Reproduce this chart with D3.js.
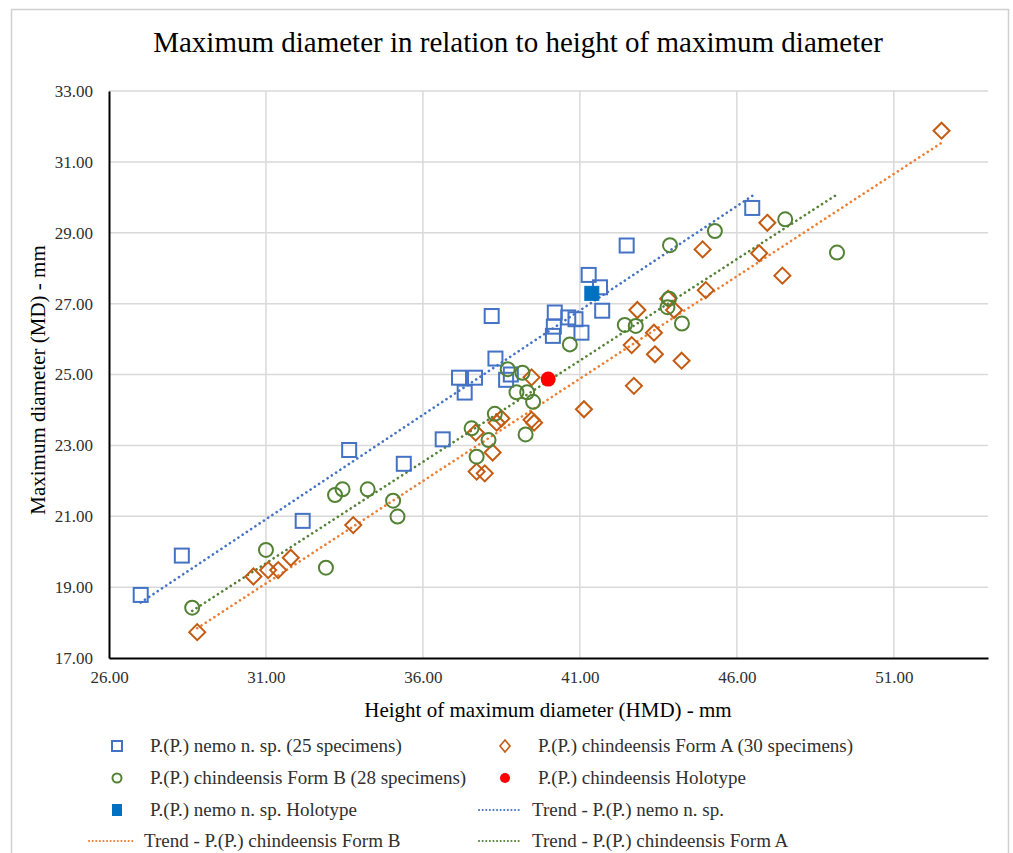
<!DOCTYPE html>
<html>
<head>
<meta charset="utf-8">
<script src="https://cdn.jsdelivr.net/npm/d3@7"></script>
<style>
html,body{margin:0;padding:0;background:#fff;}
svg{display:block;font-family:"Liberation Serif","Times New Roman",serif;}
</style>
</head>
<body>
<svg id="chart" width="1013" height="853"></svg>
<script>
// ---- data (HMD x, MD y) ----
const nemoX = [27.01,28.32,32.17,33.65,35.39,36.63,37.15,37.66,37.33,38.31,38.65,38.80,38.19,40.20,40.17,40.14,40.63,40.86,41.05,41.28,41.64,41.71,42.49,46.49];
const nemoY = [18.78,19.89,20.87,22.87,22.48,23.17,24.91,24.91,24.49,25.45,24.85,25.00,26.65,26.75,26.35,26.09,26.61,26.56,26.18,27.81,27.46,26.80,28.64,29.70];
const formAX = [28.81,30.60,31.07,31.39,31.79,33.78,37.68,38.22,37.71,37.97,38.35,38.50,39.46,39.54,39.46,41.13,42.72,42.65,43.36,43.39,44.24,42.83,43.81,44.00,45.01,44.91,46.97,46.71,47.45,52.52];
const formAY = [17.73,19.30,19.48,19.48,19.83,20.75,23.36,22.80,22.26,22.21,23.64,23.76,23.72,23.64,24.92,24.02,24.68,25.83,26.18,25.57,25.39,26.82,27.14,26.82,27.38,28.53,29.28,28.42,27.79,31.88];
const formBX = [28.65,31.00,32.91,33.20,33.44,34.24,35.05,35.19,37.55,37.71,38.09,38.29,39.27,38.98,39.32,39.51,38.70,39.17,40.68,42.43,42.78,43.84,43.79,44.25,43.87,45.30,47.54,49.19];
const formBY = [18.42,20.05,19.55,21.60,21.76,21.76,21.44,20.99,23.48,22.68,23.15,23.89,23.31,24.50,24.50,24.23,25.15,25.05,25.85,26.40,26.37,27.14,26.90,26.44,28.65,29.05,29.38,28.44];
const nemoHoloX = [41.38], nemoHoloY = [27.29];
const chinHoloX = [39.99], chinHoloY = [24.87];
const xTicks = [26,31,36,41,46,51];
const yTicks = [17,19,21,23,25,27,29,31,33];
const legendLabels = [
  "P.(P.) nemo n. sp. (25 specimens)",
  "P.(P.) chindeensis Form A (30 specimens)",
  "P.(P.) chindeensis Form B (28 specimens)",
  "P.(P.) chindeensis Holotype",
  "P.(P.) nemo n. sp. Holotype",
  "Trend - P.(P.) nemo n. sp.",
  "Trend - P.(P.) chindeensis Form B",
  "Trend - P.(P.) chindeensis Form A"
];
const titleText = "Maximum diameter in relation to height of maximum diameter";
const xTitle = "Height of maximum diameter (HMD) - mm";
const yTitle = "Maximum diameter (MD) - mm";

// ---- colors ----
const cBlue = "#4472C4", cBlueFill = "#0070C0", cOrange = "#C55A11", cOrangeLine = "#ED7D31",
      cGreen = "#548235", cRed = "#FF0000", cGrid = "#D9D9D9";

const svg = d3.select("#chart");
svg.append("rect").attr("x",11.5).attr("y",9.5).attr("width",997).attr("height",860)
  .attr("fill","#fff").attr("stroke","#D0D0D0").attr("stroke-width",1.5);

const x = d3.scaleLinear().domain([26,54]).range([109,988]);
const y = d3.scaleLinear().domain([17,33]).range([658,91]);

// gridlines
svg.append("g").selectAll("line.h").data(yTicks.slice(1)).join("line")
  .attr("x1",x(26)).attr("x2",x(54)).attr("y1",d=>y(d)).attr("y2",d=>y(d))
  .attr("stroke",cGrid).attr("stroke-width",1.5);
svg.append("g").selectAll("line.v").data(xTicks.slice(1)).join("line")
  .attr("x1",d=>x(d)).attr("x2",d=>x(d)).attr("y1",y(17)).attr("y2",y(33))
  .attr("stroke",cGrid).attr("stroke-width",1.5);

// axes
const fmt = d3.format(".2f");
const xAxis = svg.append("g").attr("transform",`translate(0,${y(17)})`)
  .call(d3.axisBottom(x).tickValues(xTicks).tickFormat(fmt).tickSize(0).tickPadding(13));
const yAxis = svg.append("g").attr("transform",`translate(${x(26)},0)`)
  .call(d3.axisLeft(y).tickValues(yTicks).tickFormat(fmt).tickSize(0).tickPadding(16));
[xAxis,yAxis].forEach(a=>{
  a.selectAll("text").attr("font-family","Liberation Serif").attr("font-size",17).attr("fill","#303030");
  a.select(".domain").attr("stroke","#000").attr("stroke-width",2);
});

// trend lines (least squares over each series, spanning the series' x range)
function trend(xs, ys){
  const n = xs.length, mx = d3.mean(xs), my = d3.mean(ys);
  let sxy=0, sxx=0;
  for(let i=0;i<n;i++){ sxy+=(xs[i]-mx)*(ys[i]-my); sxx+=(xs[i]-mx)*(xs[i]-mx); }
  const b = sxy/sxx, a = my-b*mx;
  const x0 = d3.min(xs), x1 = d3.max(xs);
  return [[x0,a+b*x0],[x1,a+b*x1]];
}
const line = d3.line().x(d=>x(d[0])).y(d=>y(d[1]));
function dotted(sel, color){
  return sel.attr("fill","none").attr("stroke",color).attr("stroke-width",2.6)
    .attr("stroke-linecap","round").attr("stroke-dasharray","0.1,5");
}
dotted(svg.append("path").attr("d",line(trend(nemoX,nemoY))), cBlue);
dotted(svg.append("path").attr("d",line(trend(formBX,formBY))), cGreen);
dotted(svg.append("path").attr("d",line(trend(formAX,formAY))), cOrangeLine);

// markers
const zip = (a,b)=>a.map((v,i)=>[v,b[i]]);
const S = 14;
svg.append("g").selectAll("rect").data(zip(nemoX,nemoY)).join("rect")
  .attr("x",d=>x(d[0])-S/2).attr("y",d=>y(d[1])-S/2).attr("width",S).attr("height",S)
  .attr("fill","none").attr("stroke",cBlue).attr("stroke-width",2);
svg.append("g").selectAll("path").data(zip(formAX,formAY)).join("path")
  .attr("d",d=>{const cx=x(d[0]),cy=y(d[1]),r=8;return `M${cx},${cy-r}L${cx+r},${cy}L${cx},${cy+r}L${cx-r},${cy}Z`;})
  .attr("fill","none").attr("stroke",cOrange).attr("stroke-width",2);
svg.append("g").selectAll("circle").data(zip(formBX,formBY)).join("circle")
  .attr("cx",d=>x(d[0])).attr("cy",d=>y(d[1])).attr("r",7)
  .attr("fill","none").attr("stroke",cGreen).attr("stroke-width",2);
svg.append("g").selectAll("rect").data(zip(nemoHoloX,nemoHoloY)).join("rect")
  .attr("x",d=>x(d[0])-7).attr("y",d=>y(d[1])-7).attr("width",14).attr("height",14)
  .attr("fill",cBlueFill).attr("stroke",cBlueFill);
svg.append("g").selectAll("circle").data(zip(chinHoloX,chinHoloY)).join("circle")
  .attr("cx",d=>x(d[0])).attr("cy",d=>y(d[1])).attr("r",7.5).attr("fill",cRed);

// titles
svg.append("text").attr("x",518).attr("y",52).attr("text-anchor","middle")
  .attr("font-size",29).attr("fill","#000").text(titleText);
svg.append("text").attr("x",548).attr("y",717).attr("text-anchor","middle")
  .attr("font-size",21).attr("fill","#000").text(xTitle);
svg.append("text").attr("transform","translate(45,380) rotate(-90)").attr("text-anchor","middle")
  .attr("font-size",21).attr("fill","#000").text(yTitle);

// legend
const lg = svg.append("g").attr("font-size",19).attr("fill","#303030");
const rows = [746,778,810,841];
function ltext(tx,ty,t){ lg.append("text").attr("x",tx).attr("y",ty+6).text(t); }
// row 1
lg.append("rect").attr("x",112).attr("y",rows[0]-5).attr("width",10).attr("height",10).attr("fill","none").attr("stroke",cBlue).attr("stroke-width",2);
ltext(150,rows[0],legendLabels[0]);
lg.append("path").attr("d",`M505,${rows[0]-6}L510,${rows[0]}L505,${rows[0]+6}L500,${rows[0]}Z`).attr("fill","none").attr("stroke",cOrange).attr("stroke-width",1.6);
ltext(538,rows[0],legendLabels[1]);
// row 2
lg.append("circle").attr("cx",117).attr("cy",rows[1]).attr("r",4.5).attr("fill","none").attr("stroke",cGreen).attr("stroke-width",2);
ltext(150,rows[1],legendLabels[2]);
lg.append("circle").attr("cx",505).attr("cy",rows[1]).attr("r",5).attr("fill",cRed);
ltext(538,rows[1],legendLabels[3]);
// row 3
lg.append("rect").attr("x",112).attr("y",rows[2]-6).attr("width",10).attr("height",12).attr("fill",cBlueFill);
ltext(150,rows[2],legendLabels[4]);
dotted(lg.append("line").attr("x1",479).attr("x2",522).attr("y1",rows[2]).attr("y2",rows[2]), cBlue).attr("stroke-width",2).attr("stroke-dasharray","0.1,3.5");
ltext(532,rows[2],legendLabels[5]);
// row 4
dotted(lg.append("line").attr("x1",89).attr("x2",134).attr("y1",rows[3]).attr("y2",rows[3]), cOrangeLine).attr("stroke-width",2).attr("stroke-dasharray","0.1,3.5");
ltext(144,rows[3],legendLabels[6]);
dotted(lg.append("line").attr("x1",479).attr("x2",522).attr("y1",rows[3]).attr("y2",rows[3]), cGreen).attr("stroke-width",2).attr("stroke-dasharray","0.1,3.5");
ltext(532,rows[3],legendLabels[7]);
</script>
</body>
</html>
